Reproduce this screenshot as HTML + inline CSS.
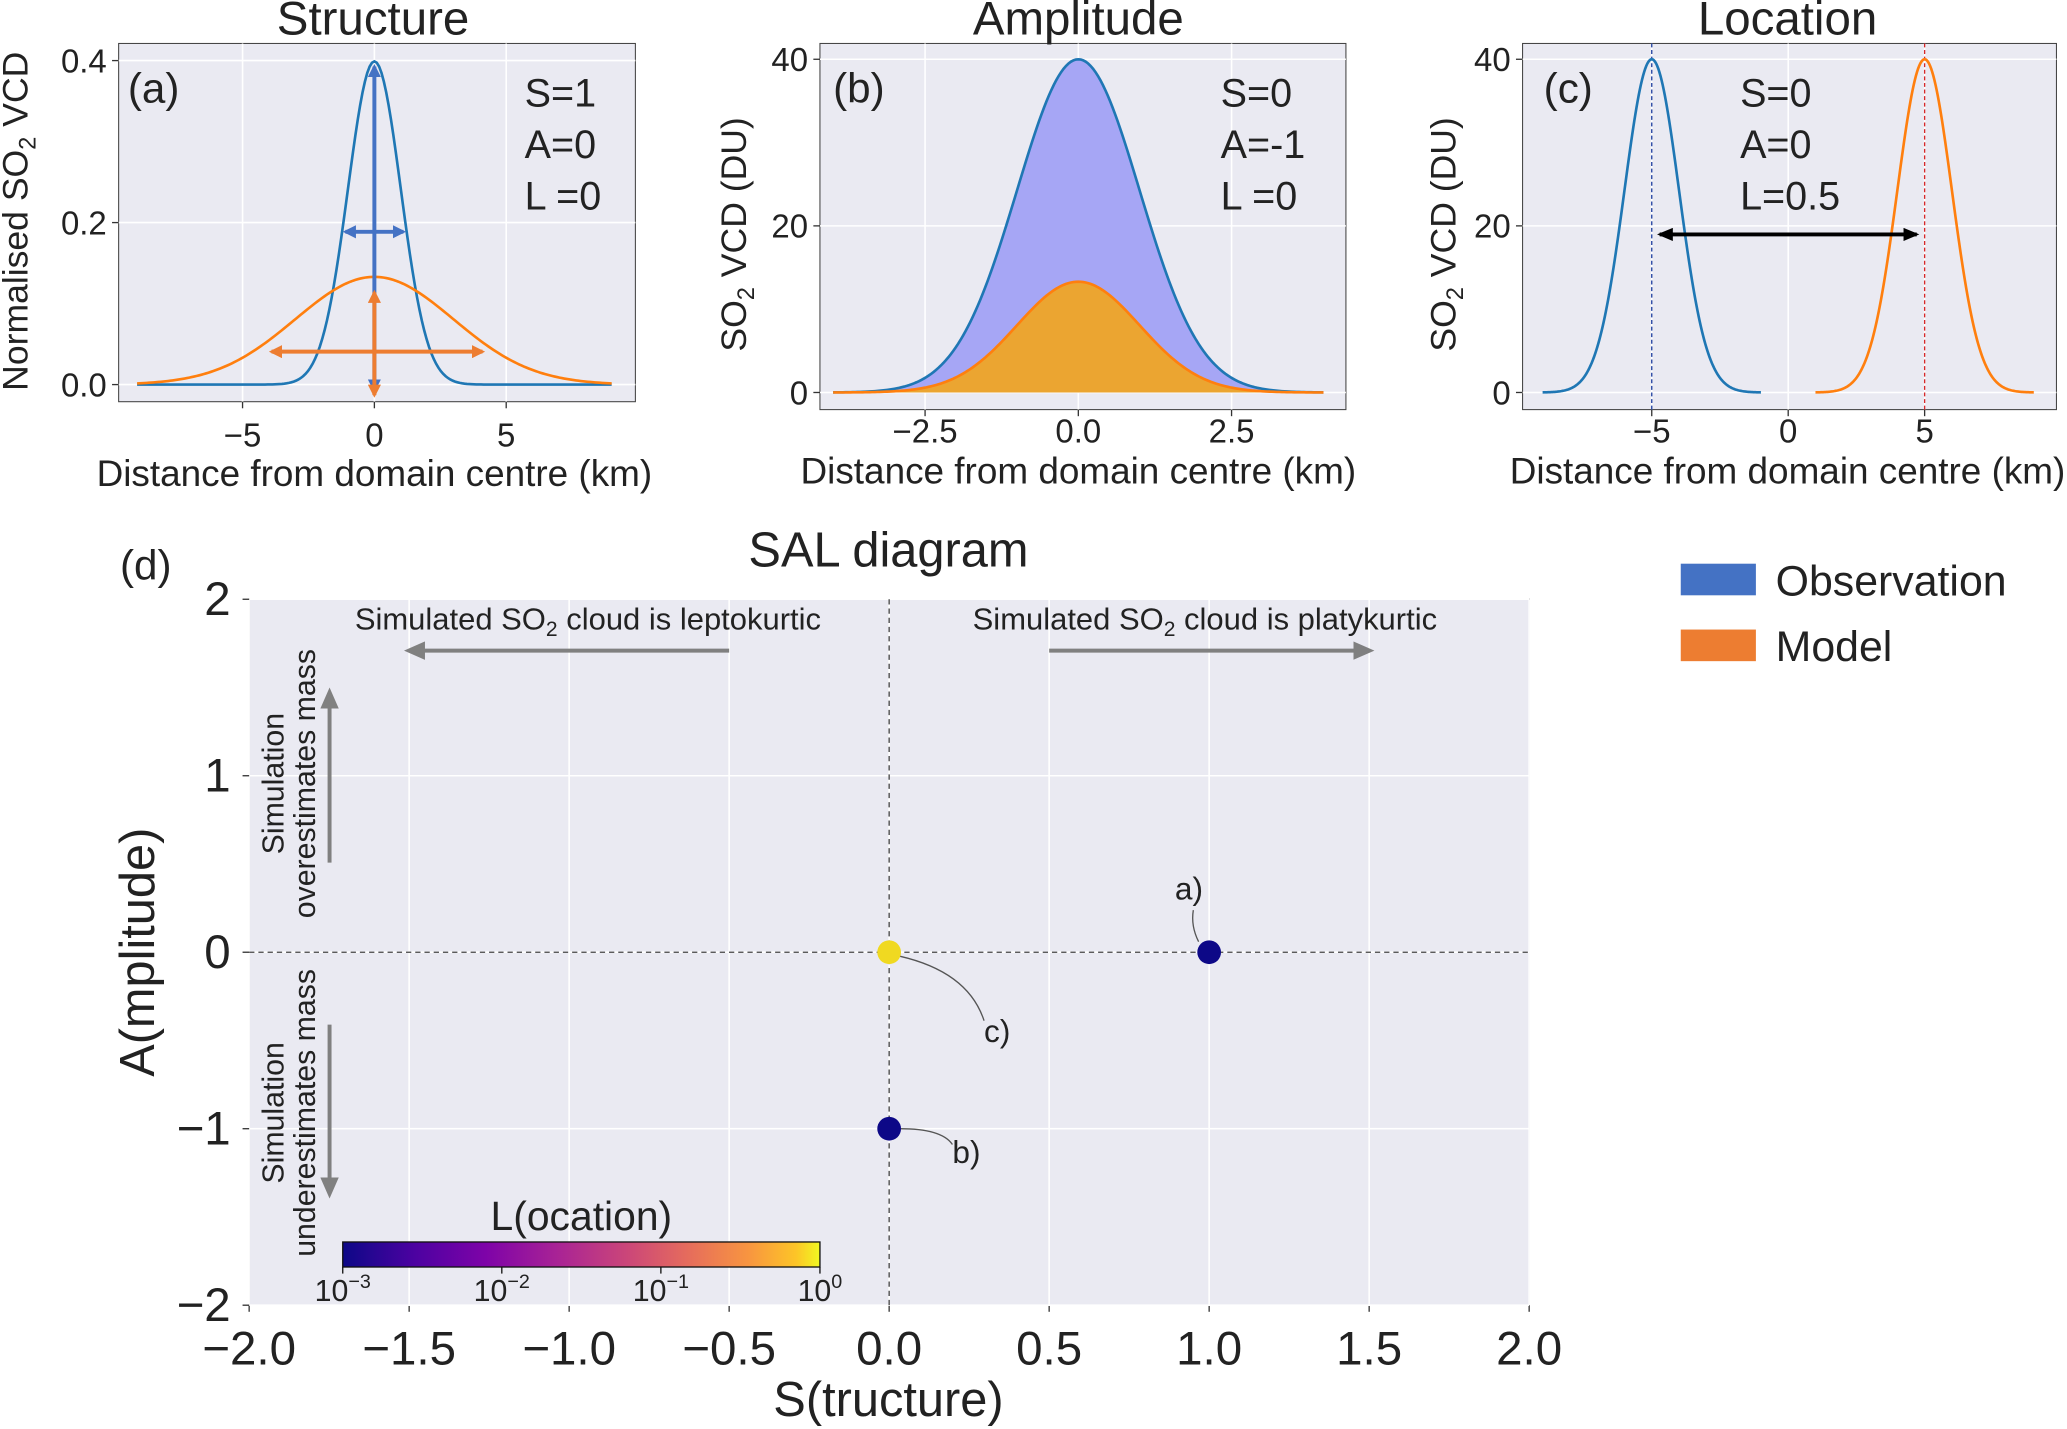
<!DOCTYPE html>
<html><head><meta charset="utf-8"><style>
html,body{margin:0;padding:0;background:#fff;}
svg{display:block;font-family:"Liberation Sans",sans-serif;}
</style></head><body>
<svg id="fig" width="2067" height="1429" viewBox="0 0 1568 1085" preserveAspectRatio="none" xmlns="http://www.w3.org/2000/svg">
<defs>
<linearGradient id="plasma" x1="0" x2="1" y1="0" y2="0">
<stop offset="0" stop-color="#0d0887"/><stop offset="0.15" stop-color="#4c02a1"/><stop offset="0.3" stop-color="#7e03a8"/><stop offset="0.45" stop-color="#a92395"/><stop offset="0.6" stop-color="#cc4778"/><stop offset="0.72" stop-color="#e56b5d"/><stop offset="0.85" stop-color="#f89540"/><stop offset="0.95" stop-color="#fdc527"/><stop offset="1" stop-color="#f0f921"/>
</linearGradient>
<marker id="ab" markerUnits="userSpaceOnUse" markerWidth="10" markerHeight="10" refX="8" refY="5" orient="auto-start-reverse"><path d="M0,0 L10,5 L0,10 z" fill="#4472c4"/></marker>
<marker id="ao" markerUnits="userSpaceOnUse" markerWidth="10" markerHeight="10" refX="8" refY="5" orient="auto-start-reverse"><path d="M0,0 L10,5 L0,10 z" fill="#ed7d31"/></marker>
<marker id="ak" markerUnits="userSpaceOnUse" markerWidth="12" markerHeight="10" refX="10" refY="5" orient="auto-start-reverse"><path d="M0,0 L12,5 L0,10 z" fill="#000"/></marker>
<marker id="ag" markerUnits="userSpaceOnUse" markerWidth="16" markerHeight="14" refX="12" refY="7" orient="auto-start-reverse"><path d="M0,0 L16,7 L0,14 z" fill="#808080"/></marker>
</defs>
<g id="root"></g>
</svg>
<script>
// ---- data ----
const aCurves = [{mu:0, sigma:1, peak:0.399, color:'#1f77b4'},{mu:0, sigma:3, peak:0.133, color:'#ff7f0e'}];
const bCurves = [{mu:0, sigma:1, peak:40, color:'#1f77b4', fill:'#a6a6f5'},{mu:0, sigma:1, peak:13.3, color:'#ff7f0e', fill:'#eba531'}];
const cCurves = [{mu:-5, sigma:1, peak:40, lo:-9, hi:-1, color:'#1f77b4'},{mu:5, sigma:1, peak:40, lo:1, hi:9, color:'#ff7f0e'}];
const aXTicks = [-5,0,5], aYTicks = [0,0.2,0.4], aYLabels=['0.0','0.2','0.4'];
const bXTicks = [-2.5,0,2.5], bXLabels=['−2.5','0.0','2.5'], bYTicks=[0,20,40];
const cXTicks = [-5,0,5], cYTicks=[0,20,40];
const dTicks = [-2,-1.5,-1,-0.5,0,0.5,1,1.5,2];
const dTickLabels = ['−2.0','−1.5','−1.0','−0.5','0.0','0.5','1.0','1.5','2.0'];
const dYTicks = [-2,-1,0,1,2];
const salS = [1, 0, 0];
const salA = [0, -1, 0];
const salL = [0.001, 0.001, 1];
const salLabels = ['a)','b)','c)'];

const NS='http://www.w3.org/2000/svg';
const root=document.getElementById('root');
function el(tag, attrs, parent, text){const e=document.createElementNS(NS,tag);for(const k in attrs)e.setAttribute(k,attrs[k]);if(text!==undefined)e.textContent=text;(parent||root).appendChild(e);return e;}
function lin(d0,d1,p0,p1){return v=>p0+(v-d0)*(p1-p0)/(d1-d0);}
function gauss(c,x){return c.peak*Math.exp(-0.5*((x-c.mu)/c.sigma)**2);}
function minus(v){return String(v).replace('-','−');}

function panel(name, box, X, Y, xt, xl, yt, yl, toff){
  const g=el('g',{});
  
  
  const r=el('rect',{x:box[0],y:box[1],width:box[2]-box[0],height:box[3]-box[1],fill:'#eaeaf2',stroke:'#444','stroke-width':0.8},g);
  
  xt.forEach((t,i)=>{el('line',{x1:X(t),x2:X(t),y1:box[1],y2:box[3],stroke:'#fff','stroke-width':1.2},g);
    el('line',{x1:X(t),x2:X(t),y1:box[3],y2:box[3]+5,stroke:'#333'},g);
    const tl=el('text',{x:X(t),y:box[3]+(toff||34),'font-size':25,'text-anchor':'middle',fill:'#222'},g,xl[i]);
    });
  yt.forEach((t,i)=>{el('line',{x1:box[0],x2:box[2],y1:Y(t),y2:Y(t),stroke:'#fff','stroke-width':1.2},g);
    el('line',{x1:box[0]-5,x2:box[0],y1:Y(t),y2:Y(t),stroke:'#333'},g);
    const tl=el('text',{x:box[0]-9,y:Y(t)+9,'font-size':25,'text-anchor':'end',fill:'#222'},g,yl[i]);
    });
  return g;
}
function path(c,X,Y,lo,hi){let d='';for(let i=0;i<=200;i++){const x=lo+(hi-lo)*i/200;d+=(i?'L':'M')+X(x).toFixed(2)+','+Y(gauss(c,x)).toFixed(2);}return d;}
function txt(g,x,y,s,size,name,extra){const t=el('text',Object.assign({x:x,y:y,'font-size':size,fill:'#222'},extra||{}),g,s);return t;}

// Panel a
{const box=[90,33,482,305];const X=lin(-9,9,104,464),Y=lin(0,0.4,292,46);
const g=panel('panel-a-structure',box,X,Y,aXTicks,aXTicks.map(minus),aYTicks,aYLabels,34);
aCurves.forEach(c=>{const p=el('path',{d:path(c,X,Y,-9,9),fill:'none',stroke:c.color,'stroke-width':2},g);});
el('line',{x1:X(0),x2:X(0),y1:Y(0)+4,y2:Y(aCurves[0].peak)+4,stroke:'#4472c4','stroke-width':3,'marker-start':'url(#ab)','marker-end':'url(#ab)'},g);
el('line',{x1:X(-1.1),x2:X(1.1),y1:176,y2:176,stroke:'#4472c4','stroke-width':3,'marker-start':'url(#ab)','marker-end':'url(#ab)'},g);
el('line',{x1:X(0),x2:X(0),y1:222,y2:300,stroke:'#ed7d31','stroke-width':3,'marker-start':'url(#ao)','marker-end':'url(#ao)'},g);
el('line',{x1:X(-3.9),x2:X(4.1),y1:267,y2:267,stroke:'#ed7d31','stroke-width':3,'marker-start':'url(#ao)','marker-end':'url(#ao)'},g);
txt(g,97,78,'(a)',32,'panel-label');
['S=1','A=0','L =0'].forEach((s,i)=>txt(g,398,81+i*39,s,30,'annotation'));
txt(g,283,26,'Structure',36,'panel-title',{'text-anchor':'middle'});
txt(g,284,369,'Distance from domain centre (km)',28,'x-axis-title',{'text-anchor':'middle'});
const yt=txt(g,0,0,'',27,'y-axis-title',{transform:'translate(21,168) rotate(-90)','text-anchor':'middle'});
yt.innerHTML='Normalised SO<tspan font-size="18" dy="6">2</tspan><tspan dy="-6"> VCD</tspan>';}

// Panel b
{const box=[622,33,1021,311];const X=lin(-4,4,632,1004),Y=lin(0,40,298,45);
const g=panel('panel-b-amplitude',box,X,Y,bXTicks,bXLabels,bYTicks,bYTicks.map(String),25);
bCurves.forEach(c=>{const d=path(c,X,Y,-4,4);const f=el('path',{d:d+'L'+X(4)+','+Y(0)+'L'+X(-4)+','+Y(0)+'Z',fill:c.fill,stroke:'none'},g);
const p=el('path',{d:d,fill:'none',stroke:c.color,'stroke-width':2},g);});
txt(g,632,78,'(b)',32,'panel-label');
['S=0','A=-1','L =0'].forEach((s,i)=>txt(g,926,81+i*39,s,30,'annotation'));
txt(g,818,26,'Amplitude',36,'panel-title',{'text-anchor':'middle'});
txt(g,818,367,'Distance from domain centre (km)',28,'x-axis-title',{'text-anchor':'middle'});
const yt=txt(g,0,0,'',27,'y-axis-title',{transform:'translate(566,178) rotate(-90)','text-anchor':'middle'});
yt.innerHTML='SO<tspan font-size="18" dy="6">2</tspan><tspan dy="-6"> VCD (DU)</tspan>';}

// Panel c
{const box=[1155,33,1560,311];const X=lin(-5,5,1253,1460),Y=lin(0,40,298,45);
const g=panel('panel-c-location',box,X,Y,cXTicks,cXTicks.map(minus),cYTicks,cYTicks.map(String),25);
cCurves.forEach(c=>{el('line',{x1:X(c.mu),x2:X(c.mu),y1:box[1],y2:box[3],stroke:c.color==='#1f77b4'?'#1f3f9f':'#d62728','stroke-width':1,'stroke-dasharray':'3,2'},g);
const p=el('path',{d:path(c,X,Y,c.lo,c.hi),fill:'none',stroke:c.color,'stroke-width':2},g);});
el('line',{x1:1259,x2:1454,y1:178,y2:178,stroke:'#000','stroke-width':3,'marker-start':'url(#ak)','marker-end':'url(#ak)'},g);
txt(g,1171,78,'(c)',32,'panel-label');
['S=0','A=0','L=0.5'].forEach((s,i)=>txt(g,1320,81+i*39,s,30,'annotation'));
txt(g,1356,26,'Location',36,'panel-title',{'text-anchor':'middle'});
txt(g,1356,367,'Distance from domain centre (km)',28,'x-axis-title',{'text-anchor':'middle'});
const yt=txt(g,0,0,'',27,'y-axis-title',{transform:'translate(1104,178) rotate(-90)','text-anchor':'middle'});
yt.innerHTML='SO<tspan font-size="18" dy="6">2</tspan><tspan dy="-6"> VCD (DU)</tspan>';}

// Panel d
{const box=[189,455,1160,991];const X=lin(-2,2,189,1160),Y=lin(-2,2,991,455);
const g=panel('panel-d-sal-diagram',box,X,Y,dTicks,[],dYTicks,[]);
dTicks.forEach((t,i)=>txt(g,X(t),box[3]+45,dTickLabels[i],36,'x-tick-label',{'text-anchor':'middle'}));
dYTicks.forEach(t=>txt(g,box[0]-14,Y(t)+12,minus(t),36,'y-tick-label',{'text-anchor':'end'}));
el('line',{x1:X(0),x2:X(0),y1:box[1],y2:box[3],stroke:'#444','stroke-width':1,'stroke-dasharray':'4,3'},g);
el('line',{x1:box[0],x2:box[2],y1:Y(0),y2:Y(0),stroke:'#444','stroke-width':1,'stroke-dasharray':'4,3'},g);
// arrows
el('line',{x1:X(-0.5),x2:X(-1.5),y1:494,y2:494,stroke:'#808080','stroke-width':3,'marker-end':'url(#ag)'},g);
el('line',{x1:X(0.5),x2:X(1.5),y1:494,y2:494,stroke:'#808080','stroke-width':3,'marker-end':'url(#ag)'},g);
el('line',{x1:250,x2:250,y1:655,y2:526,stroke:'#808080','stroke-width':3,'marker-end':'url(#ag)'},g);
el('line',{x1:250,x2:250,y1:778,y2:906,stroke:'#808080','stroke-width':3,'marker-end':'url(#ag)'},g);
const t1=txt(g,446,478,'',23.5,'leptokurtic-annotation',{'text-anchor':'middle'});t1.innerHTML='Simulated SO<tspan font-size="16" dy="5">2</tspan><tspan dy="-5"> cloud is leptokurtic</tspan>';
const t2=txt(g,914,478,'',23.5,'platykurtic-annotation',{'text-anchor':'middle'});t2.innerHTML='Simulated SO<tspan font-size="16" dy="5">2</tspan><tspan dy="-5"> cloud is platykurtic</tspan>';
txt(g,0,0,'Simulation',23,'overestimate-annotation',{transform:'translate(215,595) rotate(-90)','text-anchor':'middle'});
txt(g,0,0,'overestimates mass',23,'overestimate-annotation',{transform:'translate(239,595) rotate(-90)','text-anchor':'middle'});
txt(g,0,0,'Simulation',23,'underestimate-annotation',{transform:'translate(215,845) rotate(-90)','text-anchor':'middle'});
txt(g,0,0,'underestimates mass',23,'underestimate-annotation',{transform:'translate(239,845) rotate(-90)','text-anchor':'middle'});
// leader lines
el('path',{d:`M${X(1)-8},${Y(0)-8} Q${X(1)-14},${Y(0)-20} ${X(1)-12},${Y(0)-32}`,fill:'none',stroke:'#555','stroke-width':1},g);
el('path',{d:`M${X(0)+8},${Y(-1)} Q${X(0)+40},${Y(-1)} ${X(0)+48},${Y(-1)+12}`,fill:'none',stroke:'#555','stroke-width':1},g);
el('path',{d:`M${X(0)+8},${Y(0)+3} Q${X(0)+60},${Y(0)+15} ${X(0)+72},${Y(0)+52}`,fill:'none',stroke:'#555','stroke-width':1},g);
const lblOff=[[-26,-40],[48,26],[72,68]];
const cmap=['#0d0887','#6a00a8','#b12a90','#e16462','#fca636','#f0d921'];
function lcol(l){const t=(Math.log10(l)+3)/3;return cmap[Math.min(5,Math.round(t*5))];}
salS.forEach((s,i)=>{const c=el('circle',{cx:X(s),cy:Y(salA[i]),r:9,fill:lcol(salL[i])},g);

txt(g,X(s)+lblOff[i][0],Y(salA[i])+lblOff[i][1],salLabels[i],24,'point-label');});
// colorbar
const cb=el('rect',{x:260,y:943,width:362,height:19,fill:'url(#plasma)',stroke:'#111','stroke-width':1},g);

[-3,-2,-1,0].forEach((e,i)=>{const x=260+i*362/3;el('line',{x1:x,x2:x,y1:962,y2:967,stroke:'#111'},g);
const t=txt(g,x,988,'',23,'colorbar-tick-label',{'text-anchor':'middle'});t.innerHTML='10<tspan font-size="15" dy="-10">'+minus(e)+'</tspan>';});
txt(g,441,934,'L(ocation)',31,'colorbar-title',{'text-anchor':'middle'});
txt(g,674,430,'SAL diagram',37,'panel-title',{'text-anchor':'middle'});
txt(g,91,440,'(d)',32,'panel-label');
txt(g,674,1075,'S(tructure)',37,'x-axis-title',{'text-anchor':'middle'});
txt(g,0,0,'A(mplitude)',37,'y-axis-title',{transform:'translate(117,723) rotate(-90)','text-anchor':'middle'});}

// legend
{const g=el('g',{});
[['Observation','#4472c4',428],['Model','#ed7d31',478]].forEach(([n,c,y])=>{
const e=el('g',{},g);
el('rect',{x:1275,y:y,width:57,height:24,fill:c},e);txt(e,1347,y+24,n,32.5,'legend-label');});}
</script>
</body></html>
